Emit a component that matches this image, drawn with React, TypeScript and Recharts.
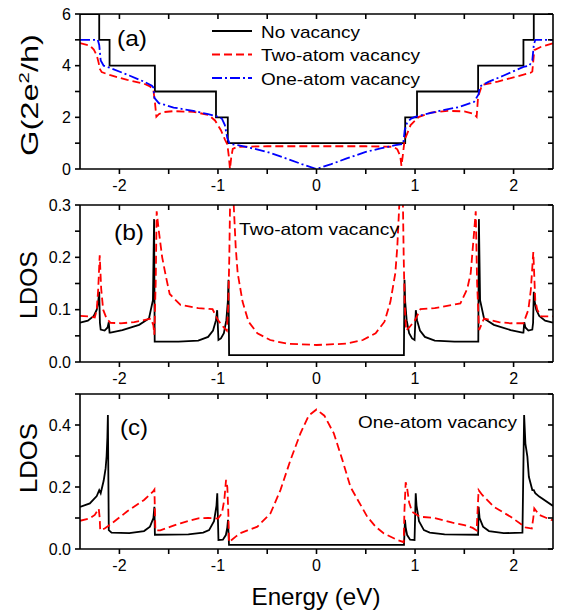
import { LineChart, Line, XAxis, YAxis } from "recharts";

// ---- panel (a): conductance G (2e^2/h) ----
const energyA_none = [-2.4, -2.205, -2.205, -2.1, -2.1, -1.64, -1.64, -1.02, -1.02, -0.9, -0.9, 0.9, 0.9, 1.02, 1.02, 1.64, 1.64, 2.1, 2.1, 2.205, 2.205, 2.4];
const condA_none = [6, 6, 5, 5, 4, 4, 3, 3, 2, 2, 1, 1, 2, 2, 3, 3, 4, 4, 5, 5, 6, 6];

const energyA_two = [
  -2.4, -2.3, -2.26, -2.23, -2.21, -2.2, -2.18, -2.1, -1.92, -1.75, -1.69, -1.655, -1.64, -1.625, -1.6, -1.56, -1.45, -1.25, -1.1,
  -1.03, -0.97, -0.93, -0.905, -0.89, -0.878, -0.865, -0.85, -0.8, -0.5, 0, 0.5, 0.78, 0.82, 0.85, 0.862, 0.875, 0.894, 0.955,
  1.04, 1.16, 1.33, 1.5, 1.6, 1.625, 1.64, 1.68, 1.84, 2.0, 2.17, 2.19, 2.21, 2.28, 2.4,
];
const condA_two = [
  4.87, 4.78, 4.62, 4.4, 4.1, 3.88, 3.75, 3.64, 3.45, 3.3, 3.2, 3.05, 2.6, 2.02, 2.12, 2.2, 2.24, 2.21, 2.1,
  1.88, 1.5, 1.15, 0.95, 0.5, 0.0, 0.45, 0.78, 0.86, 0.88, 0.88, 0.88, 0.86, 0.76, 0.5, 0.12, 0.5, 1.12, 1.7,
  2.02, 2.18, 2.25, 2.23, 2.13, 2.02, 2.8, 3.25, 3.38, 3.55, 3.72, 3.77, 4.6, 4.73, 4.87,
];

const energyA_one = [
  -2.4, -2.22, -2.205, -2.19, -2.16, -2.1, -1.9, -1.75, -1.67, -1.655, -1.645, -1.6, -1.45, -1.25, -1.1, -1.0, -0.96, -0.93, -0.905,
  -0.88, -0.8, -0.65, -0.5, -0.3, -0.15, 0, 0.15, 0.3, 0.5, 0.65, 0.8, 0.88, 0.895, 0.92, 0.96, 1.0, 1.1, 1.25, 1.45, 1.6, 1.645,
  1.655, 1.67, 1.75, 1.9, 2.1, 2.16, 2.19, 2.205, 2.22, 2.4,
];
const condA_one = [
  5, 5, 4.8, 4.2, 4.0, 3.92, 3.62, 3.38, 3.22, 3.15, 2.75, 2.55, 2.38, 2.25, 2.12, 2.02, 1.95, 1.7, 1.2,
  0.97, 0.92, 0.8, 0.66, 0.4, 0.19, 0, 0.19, 0.4, 0.66, 0.8, 0.92, 0.97, 1.5, 1.8, 1.95, 2.02, 2.12, 2.25, 2.4, 2.6, 2.9,
  3.15, 3.22, 3.38, 3.62, 3.95, 4.0, 4.2, 4.8, 5, 5,
];

// ---- panel (b): LDOS near two-atom vacancy ----
const energyB_none = [
  -2.4, -2.32, -2.26, -2.23, -2.215, -2.205, -2.198, -2.19, -2.15, -2.12, -2.108, -2.1, -2.09, -1.97, -1.8, -1.7, -1.66, -1.648, -1.642,
  -1.4, -1.2, -1.1, -1.05, -1.02, -1.008, -0.995, -0.97, -0.94, -0.915, -0.9, -0.893, -0.887,
  0.887, 0.893, 0.9, 0.915, 0.94, 0.97, 0.995, 1.008, 1.02, 1.05, 1.1, 1.2, 1.4,
  1.642, 1.648, 1.66, 1.7, 1.8, 1.97, 2.09, 2.1, 2.108, 2.12, 2.15, 2.19, 2.198, 2.205, 2.215, 2.23, 2.26, 2.32, 2.4,
];
const ldosB_none = [
  0.075, 0.079, 0.088, 0.1, 0.115, 0.134, 0.075, 0.062, 0.06, 0.066, 0.076, 0.056, 0.056, 0.061, 0.071, 0.083, 0.118, 0.273, 0.039,
  0.039, 0.041, 0.048, 0.06, 0.08, 0.099, 0.042, 0.045, 0.055, 0.08, 0.115, 0.157, 0.013,
  0.013, 0.157, 0.115, 0.08, 0.055, 0.045, 0.042, 0.099, 0.08, 0.06, 0.048, 0.041, 0.039,
  0.039, 0.273, 0.118, 0.083, 0.071, 0.061, 0.056, 0.056, 0.076, 0.066, 0.06, 0.062, 0.075, 0.134, 0.115, 0.1, 0.088, 0.079, 0.075,
];

const energyB_two = [
  -2.4, -2.3, -2.25, -2.23, -2.215, -2.2, -2.185, -2.165, -2.13, -2.09, -1.99, -1.85, -1.75, -1.68, -1.655, -1.646, -1.632, -1.622,
  -1.6, -1.566, -1.53, -1.49, -1.38, -1.2, -1.055, -1.0, -0.945, -0.91, -0.895, -0.885, -0.875, -0.86, -0.845, -0.82, -0.8, -0.75,
  -0.69, -0.6, -0.47, -0.3, 0, 0.3, 0.47, 0.6, 0.69, 0.75, 0.8, 0.82, 0.845, 0.86, 0.875, 0.885, 0.895, 0.91, 0.945, 1.0, 1.055,
  1.2, 1.38, 1.46, 1.53, 1.565, 1.6, 1.616, 1.63, 1.65, 1.7, 1.85, 1.97, 2.1, 2.15, 2.175, 2.2, 2.22, 2.24, 2.28, 2.4,
];
const ldosB_two = [
  0.088, 0.087, 0.085, 0.1, 0.14, 0.204, 0.14, 0.1, 0.083, 0.075, 0.074, 0.076, 0.08, 0.083, 0.07, 0.052, 0.15, 0.288,
  0.25, 0.2, 0.165, 0.13, 0.109, 0.103, 0.101, 0.08, 0.067, 0.06, 0.11, 0.2, 0.33, 0.45, 0.32, 0.22, 0.17, 0.115,
  0.077, 0.055, 0.042, 0.035, 0.0325, 0.035, 0.042, 0.055, 0.077, 0.115, 0.17, 0.22, 0.32, 0.45, 0.33, 0.2, 0.11, 0.06, 0.067, 0.08, 0.101,
  0.103, 0.109, 0.112, 0.14, 0.17, 0.25, 0.288, 0.15, 0.061, 0.083, 0.076, 0.074, 0.074, 0.1, 0.138, 0.21, 0.118, 0.1, 0.087, 0.087,
];

// ---- panel (c): LDOS near one-atom vacancy ----
const energyC_none = [
  -2.4, -2.3, -2.23, -2.205, -2.19, -2.16, -2.14, -2.13, -2.122, -2.117, -2.108, -2.08, -1.9, -1.75, -1.69, -1.655, -1.645, -1.64,
  -1.3, -1.15, -1.09, -1.04, -1.015, -1.007, -0.995, -0.95, -0.92, -0.905, -0.898, -0.888,
  0.888, 0.898, 0.905, 0.92, 0.95, 0.995, 1.007, 1.015, 1.04, 1.09, 1.15, 1.3,
  1.64, 1.645, 1.655, 1.69, 1.75, 1.9, 2.09, 2.107, 2.12, 2.14, 2.155, 2.19, 2.205, 2.22, 2.26, 2.4,
];
const ldosC_none = [
  0.136, 0.147, 0.171, 0.19, 0.18, 0.22, 0.26, 0.3, 0.36, 0.432, 0.061, 0.053, 0.051, 0.058, 0.072, 0.1, 0.136, 0.046,
  0.047, 0.053, 0.061, 0.09, 0.14, 0.18, 0.029, 0.03, 0.045, 0.07, 0.094, 0.013,
  0.013, 0.094, 0.07, 0.045, 0.03, 0.029, 0.18, 0.14, 0.09, 0.061, 0.053, 0.047,
  0.046, 0.136, 0.1, 0.072, 0.058, 0.051, 0.053, 0.432, 0.34, 0.298, 0.233, 0.19, 0.19, 0.18, 0.169, 0.139,
];

const energyC_one = [
  -2.4, -2.3, -2.25, -2.23, -2.21, -2.2, -2.195, -2.15, -2.11, -1.99, -1.92, -1.75, -1.66, -1.645, -1.635, -1.585, -1.48, -1.38,
  -1.2, -1.1, -1.0, -0.96, -0.935, -0.918, -0.905, -0.895, -0.888, -0.82, -0.78, -0.7, -0.6, -0.467, -0.366, -0.264, -0.163, -0.08,
  0, 0.08, 0.176, 0.26, 0.345, 0.515, 0.6, 0.684, 0.82, 0.885, 0.892, 0.905, 0.918, 0.94, 0.97, 1.05, 1.2, 1.38, 1.5, 1.585,
  1.625, 1.645, 1.68, 1.8, 1.97, 2.09, 2.12, 2.185, 2.2, 2.21, 2.26, 2.38, 2.4,
];
const ldosC_one = [
  0.091, 0.099, 0.11, 0.12, 0.13, 0.1, 0.061, 0.066, 0.075, 0.104, 0.122, 0.158, 0.185, 0.192, 0.06, 0.06, 0.072, 0.083,
  0.099, 0.1, 0.098, 0.115, 0.16, 0.223, 0.2, 0.12, 0.022, 0.04, 0.05, 0.06, 0.072, 0.115, 0.19, 0.287, 0.373, 0.43,
  0.45, 0.43, 0.373, 0.29, 0.2, 0.104, 0.072, 0.05, 0.029, 0.022, 0.12, 0.215, 0.2, 0.15, 0.12, 0.104, 0.1, 0.085, 0.077, 0.068,
  0.06, 0.19, 0.175, 0.136, 0.104, 0.077, 0.07, 0.066, 0.1, 0.131, 0.11, 0.094, 0.093,
];

// ---- axes ----
const energyDomain: [number, number] = [-2.4, 2.4];
const energyTicks = [-2, -1.5, -1, -0.5, 0, 0.5, 1, 1.5, 2];
const condTicks = [0, 1, 2, 3, 4, 5, 6];
const ldosTicksB = [0, 0.05, 0.1, 0.15, 0.2, 0.25, 0.3];
const ldosTicksC = [0, 0.1, 0.2, 0.3, 0.4, 0.5];

const FONT = '"Liberation Sans", Arial, sans-serif';
const RED = "#ff0000";
const BLUE = "#0000ff";
const CHART_W = 561;
const MARGIN_L = 40;
const MARGIN_R = 8;
const Y_AXIS_W = 40;
const TICK = 5;
const PLOT_L = MARGIN_L + Y_AXIS_W;
const PLOT_R = CHART_W - MARGIN_R;

type Series = { key: string; x: number[]; y: number[]; color: string; dash?: string };

const zip = (x: number[], y: number[]) => x.map((e, i) => ({ e, v: y[i] }));

const axisLine = { stroke: "#000", strokeWidth: 1.6 };
const tickStyle = { fill: "#000", fontSize: 16, fontFamily: FONT };

type PanelProps = {
  top: number;
  height: number;
  marginTop: number;
  xHeight: number;
  domain: [number, number];
  ticks: number[];
  format: (v: number) => string;
  series: Series[];
};

// top and right edge of the box with inward ticks (Origin-style frame)
function Frame({ top, height, marginTop, xHeight, domain, ticks }: PanelProps) {
  const y0 = top + marginTop;
  const y1 = top + height - xHeight;
  const px = (t: number) => PLOT_L + ((t - energyDomain[0]) / (energyDomain[1] - energyDomain[0])) * (PLOT_R - PLOT_L);
  const py = (t: number) => y1 - ((t - domain[0]) / (domain[1] - domain[0])) * (y1 - y0);
  return (
    <g stroke="#000" strokeWidth={1.6}>
      <line x1={PLOT_L} x2={PLOT_R} y1={y0} y2={y0} />
      <line x1={PLOT_R} x2={PLOT_R} y1={y0} y2={y1} />
      {energyTicks.map((t) => (
        <line key={`x${t}`} x1={px(t)} x2={px(t)} y1={y0} y2={y0 + TICK} />
      ))}
      {ticks.map((t) => (
        <line key={`y${t}`} x1={PLOT_R} x2={PLOT_R - TICK} y1={py(t)} y2={py(t)} />
      ))}
    </g>
  );
}

function Panel({ top, height, marginTop, xHeight, domain, ticks, format, series }: PanelProps) {
  return (
    <div style={{ position: "absolute", left: 0, top }}>
      <LineChart width={CHART_W} height={height} margin={{ top: marginTop, right: MARGIN_R, bottom: 0, left: MARGIN_L }}>
        <XAxis
          type="number"
          dataKey="e"
          domain={energyDomain}
          ticks={energyTicks}
          allowDataOverflow
          height={xHeight}
          tickFormatter={(v: number) => (Number.isInteger(v) ? String(v) : "")}
          tick={tickStyle}
          tickSize={TICK}
          tickMargin={6}
          axisLine={axisLine}
          tickLine={axisLine}
        />
        <YAxis
          type="number"
          domain={domain}
          ticks={ticks}
          allowDataOverflow
          width={Y_AXIS_W}
          tickFormatter={format}
          tick={tickStyle}
          tickSize={TICK}
          tickMargin={4}
          axisLine={axisLine}
          tickLine={axisLine}
        />
        {series.map((s) => (
          <Line
            key={s.key}
            data={zip(s.x, s.y)}
            dataKey="v"
            type="linear"
            stroke={s.color}
            strokeWidth={1.8}
            strokeDasharray={s.dash}
            dot={false}
            activeDot={false}
            isAnimationActive={false}
          />
        ))}
      </LineChart>
    </div>
  );
}

const panels: PanelProps[] = [
  {
    top: 0,
    height: 195,
    marginTop: 14,
    xHeight: 26,
    domain: [0, 6],
    ticks: condTicks,
    format: (v) => (v % 2 === 0 ? String(v) : ""),
    series: [
      { key: "none", x: energyA_none, y: condA_none, color: "#000" },
      { key: "two", x: energyA_two, y: condA_two, color: RED, dash: "8 4" },
      { key: "one", x: energyA_one, y: condA_one, color: BLUE, dash: "10 3 2 3" },
    ],
  },
  {
    top: 195,
    height: 193,
    marginTop: 10,
    xHeight: 26,
    domain: [0, 0.3],
    ticks: ldosTicksB,
    format: (v) => (Math.round(v * 100) % 10 === 0 ? v.toFixed(1) : ""),
    series: [
      { key: "none", x: energyB_none, y: ldosB_none, color: "#000" },
      { key: "two", x: energyB_two, y: ldosB_two, color: RED, dash: "8 4" },
    ],
  },
  {
    top: 388,
    height: 226,
    marginTop: 6,
    xHeight: 65,
    domain: [0, 0.5],
    ticks: ldosTicksC,
    format: (v) => (Math.round(v * 10) % 2 === 0 && v < 0.45 ? v.toFixed(1) : ""),
    series: [
      { key: "none", x: energyC_none, y: ldosC_none, color: "#000" },
      { key: "one", x: energyC_one, y: ldosC_one, color: RED, dash: "8 4" },
    ],
  },
];

const legendItems = [
  { label: "No vacancy", color: "#000", dash: undefined as string | undefined, len: 99 },
  { label: "Two-atom vacancy", color: RED, dash: "8 4", len: 159 },
  { label: "One-atom vacancy", color: BLUE, dash: "10 3 2 3", len: 159 },
];

export default function App() {
  return (
    <div style={{ position: "absolute", left: 0, top: 0, width: 561, height: 614, background: "#fff", overflow: "hidden" }}>
      {panels.map((p) => (
        <Panel key={p.top} {...p} />
      ))}
      <svg width={561} height={614} style={{ position: "absolute", left: 0, top: 0, pointerEvents: "none" }} fontFamily={FONT}>
        {panels.map((p) => (
          <Frame key={p.top} {...p} />
        ))}
        {legendItems.map((it, i) => (
          <g key={it.label}>
            <line x1={212} x2={252} y1={31 + i * 23.5} y2={31 + i * 23.5} stroke={it.color} strokeWidth={1.8} strokeDasharray={it.dash} />
            <text x={261} y={37.5 + i * 23.5} fontSize={17} textLength={it.len} lengthAdjust="spacingAndGlyphs">
              {it.label}
            </text>
          </g>
        ))}
        <text x={117} y={46} fontSize={22} textLength={30} lengthAdjust="spacingAndGlyphs">(a)</text>
        <text x={114} y={240} fontSize={22} textLength={30} lengthAdjust="spacingAndGlyphs">(b)</text>
        <text x={120} y={435} fontSize={22} textLength={28} lengthAdjust="spacingAndGlyphs">(c)</text>
        <text x={239} y={235} fontSize={17} textLength={160} lengthAdjust="spacingAndGlyphs">Two-atom vacancy</text>
        <text x={358} y={428} fontSize={17} textLength={159} lengthAdjust="spacingAndGlyphs">One-atom vacancy</text>
        <text x={316} y={605} fontSize={24} textAnchor="middle" textLength={129} lengthAdjust="spacingAndGlyphs">Energy (eV)</text>
        <text transform="translate(38,95) rotate(-90)" fontSize={24} textAnchor="middle" textLength={122} lengthAdjust="spacingAndGlyphs">
          G(2e<tspan fontSize={15} dy={-9}>2</tspan><tspan dy={9}>/h)</tspan>
        </text>
        <text transform="translate(37,285) rotate(-90)" fontSize={24} textAnchor="middle" textLength={68} lengthAdjust="spacingAndGlyphs">LDOS</text>
        <text transform="translate(37,458) rotate(-90)" fontSize={24} textAnchor="middle" textLength={70} lengthAdjust="spacingAndGlyphs">LDOS</text>
      </svg>
    </div>
  );
}
